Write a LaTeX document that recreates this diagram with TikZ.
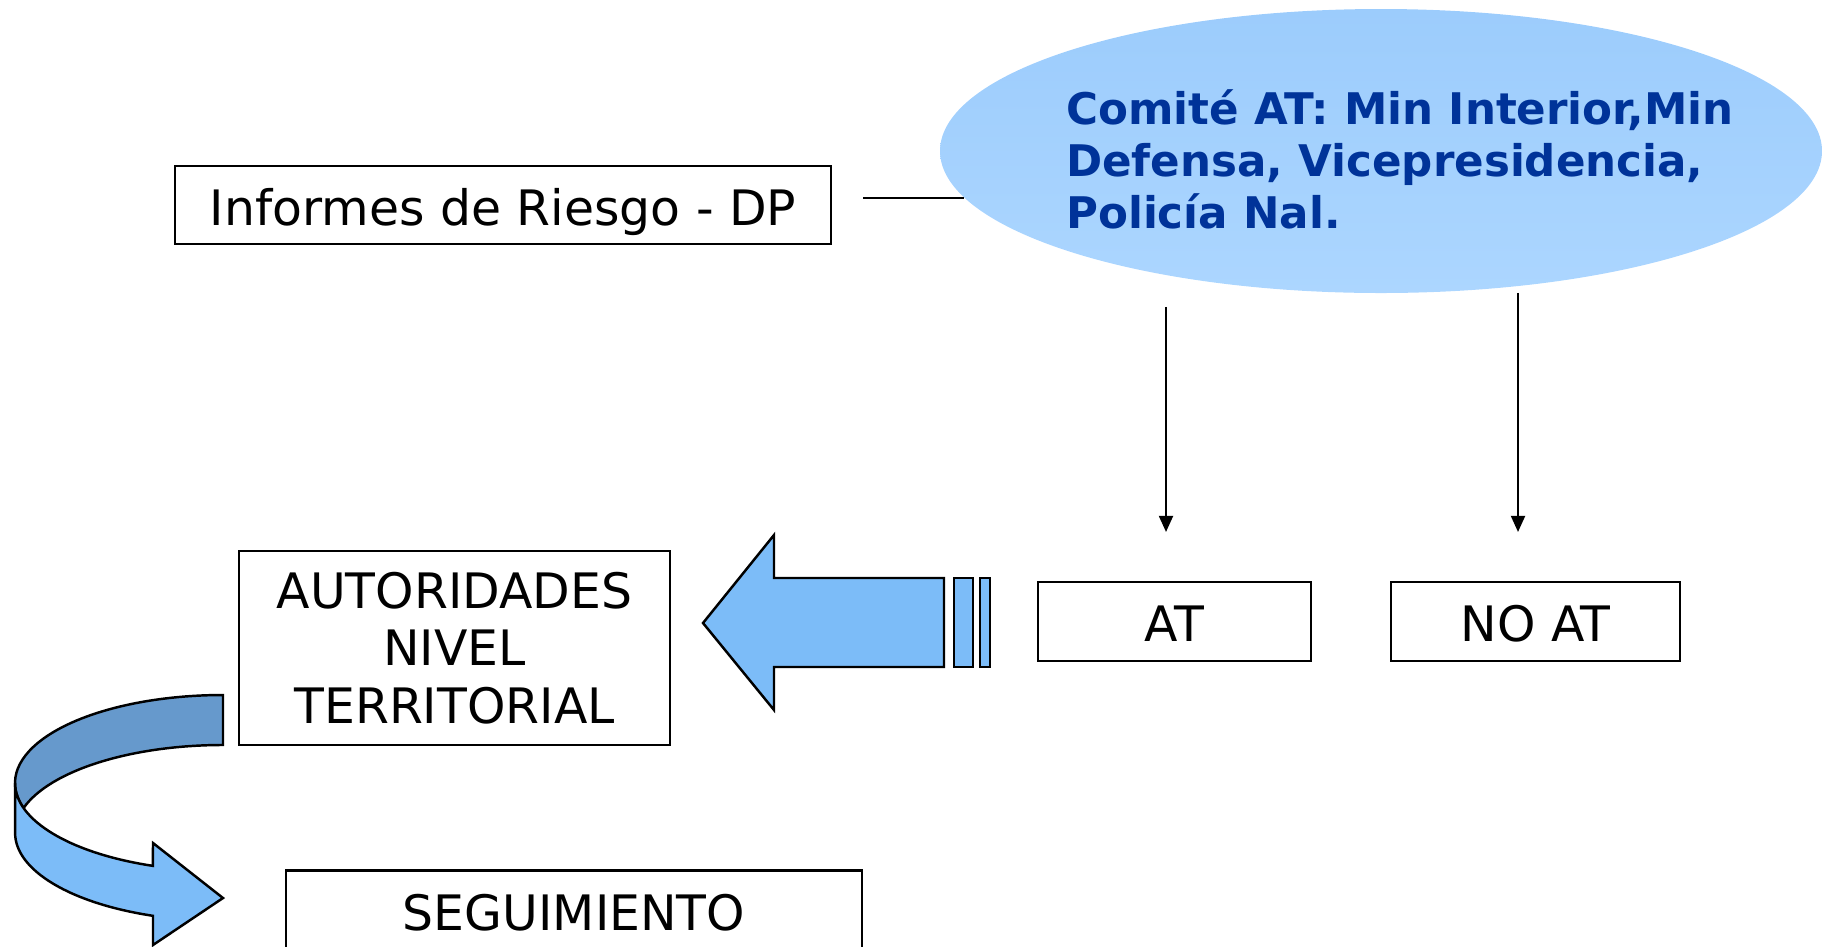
\documentclass[tikz,border=0pt]{standalone}
\usepackage{fontspec}
\setmainfont{DejaVu Sans}
\usetikzlibrary{shapes.geometric,arrows.meta}
\definecolor{azulflecha}{RGB}{124,188,248}
\definecolor{azuloscuro}{RGB}{102,153,204}
\definecolor{cielosup}{RGB}{156,204,252}
\definecolor{cieloinf}{RGB}{172,214,255}
\definecolor{azultexto}{RGB}{0,51,153}
\begin{document}
\begin{tikzpicture}[
 caja/.style={draw,line width=0.6pt,inner sep=0pt,align=center,font=\fontsize{13.9}{16.4}\selectfont},
 linea/.style={caja,text height=11.6pt,text depth=0pt},
 flecha/.style={line width=0.6pt,-{Triangle[length=4.6pt,width=4pt]}},
 bloque/.style={draw,line width=0.7pt,fill=azulflecha,line join=miter}]
\useasboundingbox (0,0) rectangle (18.25,-9.46);
% comite
\node[ellipse,minimum width=8.82cm,minimum height=2.84cm,inner sep=0pt,
 top color=cielosup,bottom color=cieloinf] (comite) at (13.81,-1.51) {};
\node[align=left,text=azultexto,font=\fontsize{12.4}{14.8}\selectfont\bfseries] (comtxt) at (14.00,-1.59)
 {Comité AT: Min Interior,Min\\Defensa, Vicepresidencia,\\Policía Nal.};
% cajas
\node[linea,minimum width=6.56cm,minimum height=0.78cm] (inf) at (5.03,-2.05) {Informes de Riesgo - DP};
\node[linea,minimum width=2.73cm,minimum height=0.79cm] (at) at (11.745,-6.215) {AT};
\node[linea,minimum width=2.89cm,minimum height=0.79cm] (noat) at (15.355,-6.215) {NO AT};
\node[caja,minimum width=4.31cm,minimum height=1.94cm] (aut) at (4.545,-6.48) {AUTORIDADES\\NIVEL\\TERRITORIAL};
\node[linea,minimum width=5.76cm,minimum height=0.79cm] (seg) at (5.74,-9.10) {SEGUIMIENTO};
% conectores
\coordinate (lin) at ([xshift=3.1mm,yshift=0.7mm]inf.east);
\draw[line width=0.6pt] (lin) -- ([xshift=2.5mm]lin -| comite.west);
\draw[flecha] ([xshift=-0.85mm,yshift=27.4mm]at.north) -- ([xshift=-0.85mm,yshift=4.9mm]at.north);
\draw[flecha] ([xshift=-1.75mm,yshift=28.8mm]noat.north) -- ([xshift=-1.75mm,yshift=4.9mm]noat.north);
% flecha grande
\draw[bloque] (7.03,-6.23) -- (7.74,-5.35) -- (7.74,-5.78) -- (9.44,-5.78) -- (9.44,-6.67) -- (7.74,-6.67) -- (7.74,-7.10) -- cycle;
\draw[bloque] (9.54,-5.78) rectangle (9.73,-6.67);
\draw[bloque] (9.80,-5.78) rectangle (9.90,-6.67);
% flecha curva
\draw[bloque,fill=azuloscuro] (2.23,-6.95) arc[start angle=90,end angle=196.5,x radius=2.08,y radius=0.88]
 arc[start angle=163.5,end angle=90,x radius=2.08,y radius=0.88] -- cycle;
\draw[bloque] (0.15,-7.83) arc[start angle=180,end angle=250.3,x radius=2.08,y radius=0.88]
 -- (1.53,-8.43) -- (2.23,-8.98) -- (1.53,-9.45) -- (1.53,-9.158)
 arc[start angle=250.3,end angle=180,x radius=2.08,y radius=0.88] -- cycle;
\end{tikzpicture}
\end{document}
